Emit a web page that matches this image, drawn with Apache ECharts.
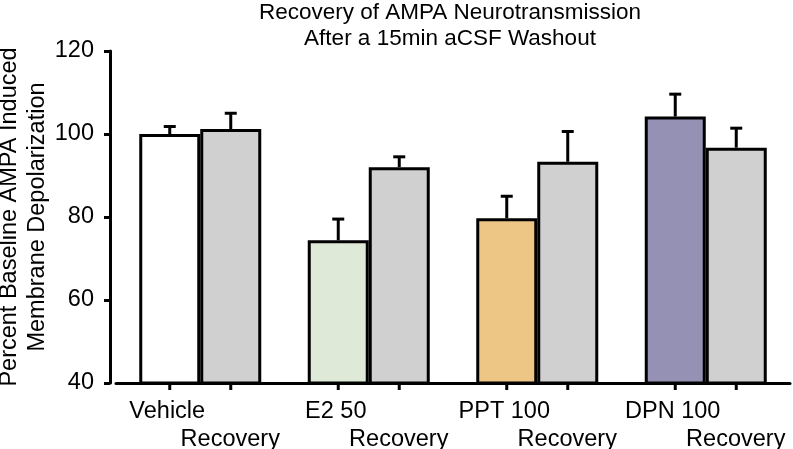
<!DOCTYPE html>
<html>
<head>
<meta charset="utf-8">
<script src="https://cdn.jsdelivr.net/npm/echarts@6/dist/echarts.min.js"></script>
<style>
html,body{margin:0;padding:0;background:#fff;}
#c{width:793px;height:449px;}
</style>
</head>
<body>
<div id="c"></div>
<script>
const groups = ['Vehicle', 'E2 50', 'PPT 100', 'DPN 100'];
const recoveryLabel = 'Recovery';
const treatment = [100.0, 74.4, 79.7, 104.2];
const treatmentErr = [1.8, 5.1, 5.3, 5.4];
const recovery = [101.2, 92.0, 93.3, 96.7];
const recoveryErr = [3.8, 2.5, 7.3, 4.7];
const yTicks = [40, 60, 80, 100, 120];
const titleLines = ['Recovery of AMPA Neurotransmission', 'After a 15min aCSF Washout'];
const yNameLines = ['Percent Baseline AMPA Induced', 'Membrane Depolarization'];

const treatmentColors = ['#ffffff', '#dfe9d7', '#edc584', '#9591b4'];
const recoveryColor = '#d0d0d0';
const BAR_W = 61;
const FONT = '"Liberation Sans", Arial, Helvetica, sans-serif';

const errData = [];
treatment.forEach((v, i) => errData.push([i, v, treatmentErr[i], -1]));
recovery.forEach((v, i) => errData.push([i, v, recoveryErr[i], 1]));
const tickData = [];
groups.forEach((g, i) => { tickData.push([i, -1]); tickData.push([i, 1]); });

const chart = echarts.init(document.getElementById('c'), null, {renderer: 'canvas'});
chart.setOption({
  animation: false,
  backgroundColor: '#ffffff',
  title: {
    text: titleLines.join('\n'),
    left: 450,
    top: 0,
    padding: 0,
    textAlign: 'center',
    textStyle: {fontFamily: FONT, fontSize: 22.5, fontWeight: 'normal', color: '#000', lineHeight: 26}
  },
  grid: {left: 116, right: 3, top: 51, bottom: 66, containLabel: false, outerBoundsMode: 'none'},
  xAxis: {
    type: 'category',
    data: groups,
    axisLine: {lineStyle: {color: '#000', width: 3}},
    axisTick: {show: false},
    axisLabel: {
      interval: 0,
      margin: 15,
      formatter: (v) => '{a|' + v + '}\n{b|' + recoveryLabel + '}',
      rich: {
        a: {fontFamily: FONT, fontSize: 23.5, color: '#000', lineHeight: 28, padding: [0, 66, 0, 0]},
        b: {fontFamily: FONT, fontSize: 23.5, color: '#000', lineHeight: 28, padding: [0, 0, 0, 60]}
      }
    }
  },
  yAxis: {
    type: 'value',
    min: 40, max: 120, interval: 20,
    offset: 6,
    splitLine: {show: false},
    axisLine: {show: true, lineStyle: {color: '#000', width: 3}},
    axisTick: {show: true, length: 6, lineStyle: {color: '#000', width: 3}},
    axisLabel: {margin: 16, fontFamily: FONT, fontSize: 23.5, color: '#000',
      formatter: (v) => yTicks.includes(v) ? String(v) : ''},
    name: yNameLines.join('\n'),
    nameLocation: 'middle',
    nameGap: 58,
    nameMoveOverlap: false,
    nameTextStyle: {fontFamily: FONT, fontSize: 23.5, color: '#000', lineHeight: 28, align: 'center'}
  },
  series: [
    {
      type: 'bar', name: 'Treatment', barWidth: BAR_W, barGap: '0%',
      data: treatment.map((v, i) => ({value: v, itemStyle: {color: treatmentColors[i]}})),
      itemStyle: {borderColor: '#000', borderWidth: 3},
      z: 2
    },
    {
      type: 'bar', name: 'Recovery', barWidth: BAR_W, barGap: '0%',
      data: recovery,
      itemStyle: {color: recoveryColor, borderColor: '#000', borderWidth: 3},
      z: 2
    },
    {
      type: 'custom', name: 'err', z: 1,
      data: errData,
      renderItem: (params, api) => {
        const c = api.value(0), v = api.value(1), e = api.value(2), side = api.value(3);
        const p0 = api.coord([c, v]);
        const p1 = api.coord([c, v + e]);
        const x = p0[0] + side * BAR_W / 2;
        const st = {stroke: '#000', lineWidth: 3};
        return {type: 'group', children: [
          {type: 'line', shape: {x1: x, y1: p0[1], x2: x, y2: p1[1]}, style: st},
          {type: 'line', shape: {x1: x - 6, y1: p1[1], x2: x + 6, y2: p1[1]}, style: st}
        ]};
      }
    },
    {
      type: 'custom', name: 'ticks', z: 3,
      data: tickData,
      renderItem: (params, api) => {
        const c = api.value(0), side = api.value(1);
        const p = api.coord([c, 40]);
        const x = p[0] + side * BAR_W / 2;
        return {type: 'line', shape: {x1: x, y1: p[1], x2: x, y2: p[1] + 7}, style: {stroke: '#000', lineWidth: 3}};
      }
    }
  ]
});
</script>
</body>
</html>
